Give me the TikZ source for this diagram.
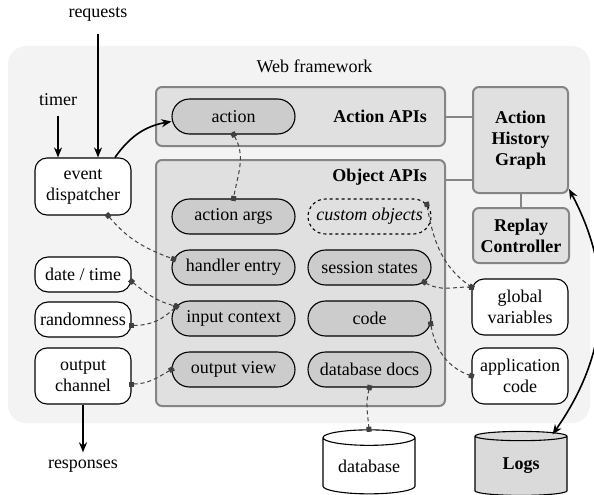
\documentclass[tikz,border=0pt]{standalone}
\usepackage{fontspec}
\setmainfont{Liberation Serif}
\usetikzlibrary{shapes.misc,shapes.geometric,arrows.meta,calc}
\definecolor{bgc}{HTML}{F3F3F3}
\definecolor{apic}{HTML}{E0E0E0}
\definecolor{apib}{HTML}{858585}
\definecolor{pillc}{HTML}{CCCCCC}
\definecolor{logc}{HTML}{DADADA}
\definecolor{dashc}{HTML}{404040}
\tikzset{
  pill/.style={rounded rectangle, draw=black, line width=1.1pt, fill=pillc,
    minimum width=123pt, minimum height=35pt, inner sep=0pt},
  wbox/.style={rectangle, rounded corners=12pt, draw=black, line width=1.1pt,
    fill=white, minimum width=96pt, align=center, inner sep=0pt},
  apibox/.style={rectangle, rounded corners=6pt, draw=apib, line width=2pt,
    fill=apic, inner sep=0pt},
  ctrlbox/.style={apibox, align=center, font=\fontsize{18}{21}\selectfont\bfseries},
  lbl/.style={font=\fontsize{18}{21}\selectfont\bfseries, inner sep=0pt},
  link/.style={draw=apib, line width=2pt},
  dep/.style={dashc, line width=1pt, dash pattern=on 4pt off 3pt,
    {Square[length=5pt,width=5pt]}-{Square[length=5pt,width=5pt]},
    shorten <=-2.5pt, shorten >=-2.5pt},
  flow/.style={line width=1.8pt, -{Stealth[length=10pt,width=8pt]}},
  dbcyl/.style={cylinder, shape border rotate=90, aspect=0.25, draw=black,
    line width=1.1pt, minimum width=92pt, minimum height=64pt, inner sep=0pt},
}
\begin{document}
\begin{tikzpicture}[x=1pt,y=1pt, font=\fontsize{18}{21}\selectfont]
\useasboundingbox (0,0) rectangle (594,-495);
% background
\node[fill=bgc, rounded corners=18pt, minimum width=582pt, minimum height=377pt, inner sep=0pt] (web) at (299,-234.5) {};
\node (webl) at (314.5,-66) {Web framework};
% API boxes
\node[apibox, minimum width=289pt, minimum height=59pt] (aapi) at (300.5,-116.5) {};
\node[lbl, anchor=east] (aapil) at (427,-116) {Action APIs};
\node[apibox, minimum width=289pt, minimum height=246pt] (oapi) at (300.5,-283) {};
\node[lbl, anchor=east] (oapil) at (427,-177) {Object APIs};
% pills
\node[pill] (action) at (233.5,-116.5) {action};
\node[pill] (aargs) at (233.5,-216.5) {action args};
\node[pill] (hand) at (233.5,-267.5) {handler entry};
\node[pill] (inp) at (233.5,-318.5) {input context};
\node[pill] (outv) at (233.5,-369.5) {output view};
\node[pill, fill=none, dashed] (cust) at (369.5,-216.5) {\itshape custom objects};
\node[pill] (sess) at (369.5,-267.5) {session states};
\node[pill] (code) at (369.5,-318.5) {code};
\node[pill] (dbd) at (369.5,-369.5) {database docs};
% controller boxes
\node[ctrlbox, minimum width=95pt, minimum height=106pt] (ahg) at (520.5,-140) {Action\\History\\Graph};
\node[ctrlbox, minimum width=96pt, minimum height=55pt] (rc) at (521,-235.5) {Replay\\Controller};
\draw[link] (aapi.east) -- (aapi.east -| ahg.west);
\draw[link] (oapi.east |- 0,-180) -- (ahg.west |- 0,-180);
\draw[link] (ahg.south) -- (ahg.south |- rc.north);
% left boxes
\node[wbox, minimum height=57pt] (ed) at (83,-186.5) {event\\dispatcher};
\node[wbox, minimum height=35pt, rounded corners=13pt] (dt) at (83,-274.5) {date / time};
\node[wbox, minimum height=35pt, rounded corners=13pt] (rnd) at (83,-319.5) {randomness};
\node[wbox, minimum height=56pt] (oc) at (83,-376) {output\\channel};
% right boxes
\node[wbox, minimum height=56pt] (gv) at (520,-307) {global\\variables};
\node[wbox, minimum height=56pt] (ac) at (520,-376) {application\\code};
% cylinders
\node[dbcyl, fill=white] (db) at (369,-466) {database};
\node[dbcyl, fill=logc, font=\fontsize{18}{21}\selectfont\bfseries] (logs) at (521,-466) {Logs};
% outside labels
\node (req) at (98,-14) {requests};
\node (tim) at (58,-100) {timer};
\node (resp) at (83,-466) {responses};
% flows
\draw[flow] ([yshift=-9pt]req.south) -- (req.south |- ed.north);
\draw[flow] ([yshift=-6pt]tim.south) -- (tim.south |- ed.north);
\draw[flow] (oc.south) -- ([yshift=4pt]resp.north);
\draw[flow, line width=1.6pt] ([xshift=32pt]ed.north) to[out=55,in=190] ([yshift=-5pt]action.west);
\draw[line width=1.6pt, {Stealth[length=10pt,width=8pt]}-{Stealth[length=10pt,width=8pt]}]
  ([yshift=5pt]ahg.south east) to[out=-62,in=55,looseness=1.02] ([xshift=-2pt,yshift=-2pt]logs.north east);
% dependencies
\draw[dep] (action.south) to[out=-60,in=80] (aargs.north);
\draw[dep] ([xshift=25pt]ed.south) to[out=-50,in=160] (hand.172);
\draw[dep] (dt.-8) to[out=-40,in=165] (inp.168);
\draw[dep] (rnd.-7) to[out=0,in=-135] (inp.168);
\draw[dep] ([yshift=-8pt]oc.east) to[out=0,in=-150] (outv.west);
\draw[dep] (cust.12) to[out=-80,in=145] ([yshift=20pt]gv.west);
\draw[dep] (sess.-15) to[out=-30,in=180] ([yshift=20pt]gv.west);
\draw[dep] (code.-5) to[out=-80,in=160] (ac.west);
\draw[dep] (dbd.south) to[out=-105,in=95] (db.north);
\end{tikzpicture}
\end{document}
